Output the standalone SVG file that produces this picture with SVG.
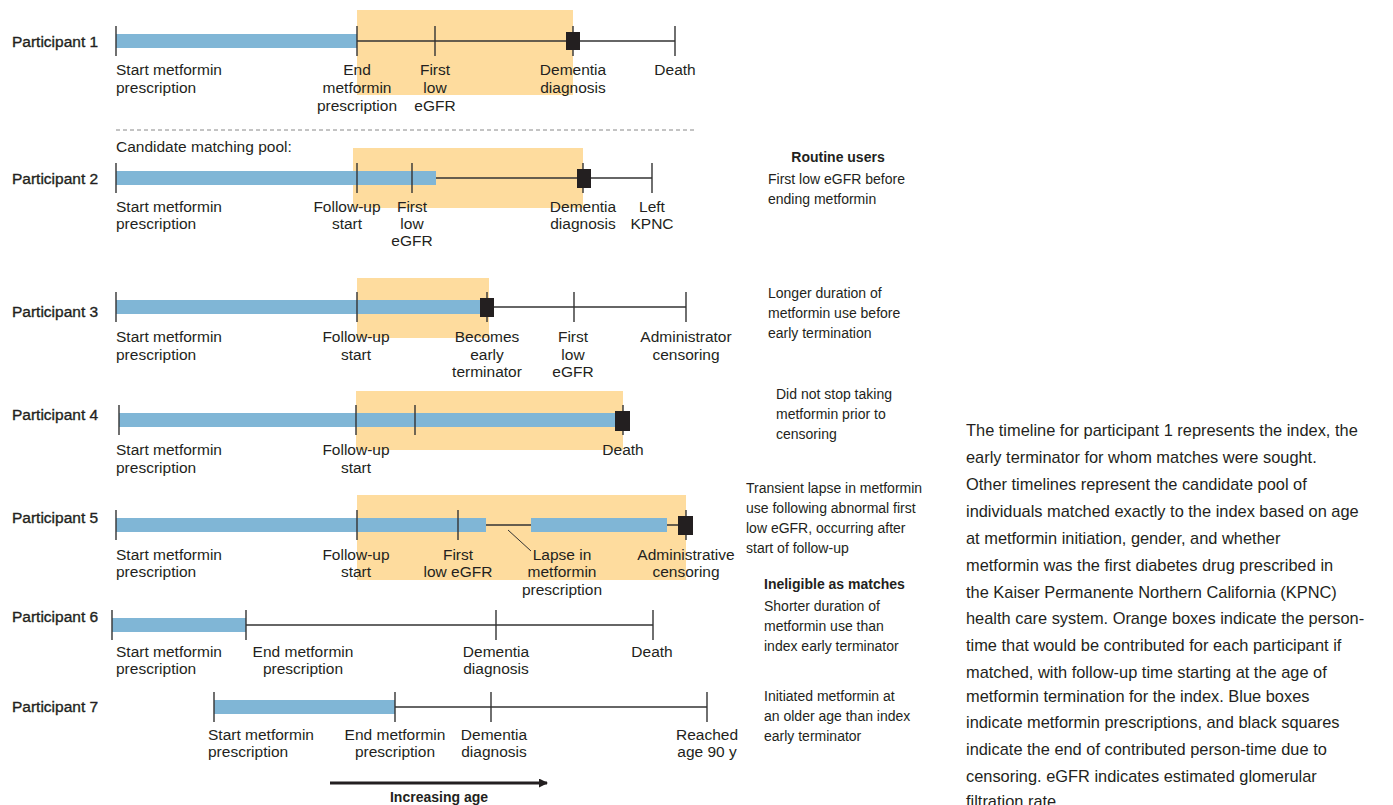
<svg xmlns="http://www.w3.org/2000/svg" width="1393" height="805" viewBox="0 0 1393 805">
<defs>
<style>
text{font-family:"Liberation Sans",Arial,sans-serif;fill:#231f20}
.lb{font-size:15.5px}
.c{text-anchor:middle}
.pl{font-size:15.5px;stroke:#231f20;stroke-width:0.35}
.b{font-weight:bold}
.note{font-size:14px}
.para{font-size:16.4px}
.or{fill:#fedc9e}
.bl{fill:#80b6d6}
.ln{stroke:#333;stroke-width:1.6;fill:none}
.tk{stroke:#333;stroke-width:1.4}
.sq{fill:#231f20}
</style>
<marker id="ah" markerWidth="9" markerHeight="9" refX="8" refY="4.5" orient="auto" markerUnits="userSpaceOnUse"><path d="M0,0 L9,4.5 L0,9 Z" fill="#231f20"/></marker>
</defs>
<rect width="1393" height="805" fill="#fff"/>

<g id="p1">
<rect class="or" x="357" y="10" width="216" height="85"/>
<line class="ln" x1="357" y1="41" x2="675" y2="41"/>
<rect class="bl" x="116" y="34" width="241" height="14"/>
<g class="tk"><line x1="116" y1="26" x2="116" y2="56"/><line x1="357" y1="26" x2="357" y2="56"/><line x1="435" y1="26" x2="435" y2="56"/><line x1="573" y1="26" x2="573" y2="56"/><line x1="675" y1="26" x2="675" y2="56"/></g>
<rect class="sq" x="566" y="32" width="14" height="18"/>
<text class="pl" x="12" y="47">Participant 1</text>
<text class="lb" x="116" y="75">Start metformin</text><text class="lb" x="116" y="93">prescription</text>
<text class="lb c" x="357" y="75">End</text><text class="lb c" x="357" y="93">metformin</text><text class="lb c" x="357" y="111">prescription</text>
<text class="lb c" x="435" y="75">First</text><text class="lb c" x="435" y="93">low</text><text class="lb c" x="435" y="111">eGFR</text>
<text class="lb c" x="573" y="75">Dementia</text><text class="lb c" x="573" y="93">diagnosis</text>
<text class="lb c" x="675" y="75">Death</text>
</g>

<line x1="116" y1="130" x2="697" y2="130" stroke="#888" stroke-width="1" stroke-dasharray="4,3"/>
<text class="lb" x="116" y="152">Candidate matching pool:</text>

<g id="p2">
<rect class="or" x="353" y="148" width="230" height="60"/>
<line class="ln" x1="357" y1="178" x2="652" y2="178"/>
<rect class="bl" x="116" y="171" width="320" height="14"/>
<g class="tk"><line x1="116" y1="163" x2="116" y2="193"/><line x1="357" y1="163" x2="357" y2="193"/><line x1="412" y1="163" x2="412" y2="193"/><line x1="583" y1="163" x2="583" y2="193"/><line x1="652" y1="163" x2="652" y2="193"/></g>
<rect class="sq" x="577" y="169" width="14" height="19"/>
<text class="pl" x="12" y="184">Participant 2</text>
<text class="lb" x="116" y="212">Start metformin</text><text class="lb" x="116" y="229">prescription</text>
<text class="lb c" x="347" y="212">Follow-up</text><text class="lb c" x="347" y="229">start</text>
<text class="lb c" x="412" y="212">First</text><text class="lb c" x="412" y="229">low</text><text class="lb c" x="412" y="246">eGFR</text>
<text class="lb c" x="583" y="212">Dementia</text><text class="lb c" x="583" y="229">diagnosis</text>
<text class="lb c" x="652" y="212">Left</text><text class="lb c" x="652" y="229">KPNC</text>
</g>

<g id="p3">
<rect class="or" x="357" y="278" width="132" height="60"/>
<line class="ln" x1="487" y1="307" x2="686" y2="307"/>
<rect class="bl" x="116" y="300" width="371" height="14"/>
<g class="tk"><line x1="116" y1="292" x2="116" y2="322"/><line x1="357" y1="292" x2="357" y2="322"/><line x1="487" y1="292" x2="487" y2="322"/><line x1="574" y1="292" x2="574" y2="322"/><line x1="686" y1="292" x2="686" y2="322"/></g>
<rect class="sq" x="480" y="298" width="14" height="19"/>
<text class="pl" x="12" y="317">Participant 3</text>
<text class="lb" x="116" y="342">Start metformin</text><text class="lb" x="116" y="360">prescription</text>
<text class="lb c" x="356" y="342">Follow-up</text><text class="lb c" x="356" y="360">start</text>
<text class="lb c" x="487" y="342">Becomes</text><text class="lb c" x="487" y="360">early</text><text class="lb c" x="487" y="377">terminator</text>
<text class="lb c" x="573" y="342">First</text><text class="lb c" x="573" y="360">low</text><text class="lb c" x="573" y="377">eGFR</text>
<text class="lb c" x="686" y="342">Administrator</text><text class="lb c" x="686" y="360">censoring</text>
</g>

<g id="p4">
<rect class="or" x="356" y="391" width="267" height="59"/>
<rect class="bl" x="119" y="413" width="497" height="14"/>
<g class="tk"><line x1="119" y1="405" x2="119" y2="435"/><line x1="356" y1="405" x2="356" y2="435"/><line x1="415" y1="405" x2="415" y2="435"/><line x1="623" y1="405" x2="623" y2="435"/></g>
<rect class="sq" x="615" y="411" width="15" height="20"/>
<text class="pl" x="12" y="420">Participant 4</text>
<text class="lb" x="116" y="455">Start metformin</text><text class="lb" x="116" y="473">prescription</text>
<text class="lb c" x="356" y="455">Follow-up</text><text class="lb c" x="356" y="473">start</text>
<text class="lb c" x="623" y="455">Death</text>
</g>

<g id="p5">
<rect class="or" x="357" y="495" width="329" height="85"/>
<line class="ln" x1="486" y1="525" x2="686" y2="525"/>
<rect class="bl" x="116" y="518" width="370" height="14"/>
<rect class="bl" x="531" y="518" width="136" height="14"/>
<g class="tk"><line x1="116" y1="510" x2="116" y2="540"/><line x1="357" y1="510" x2="357" y2="540"/><line x1="458" y1="510" x2="458" y2="540"/><line x1="686" y1="510" x2="686" y2="540"/></g>
<line x1="508" y1="530" x2="531" y2="551" stroke="#333" stroke-width="1"/>
<rect class="sq" x="678" y="516" width="15" height="19"/>
<text class="pl" x="12" y="523">Participant 5</text>
<text class="lb" x="116" y="560">Start metformin</text><text class="lb" x="116" y="577">prescription</text>
<text class="lb c" x="356" y="560">Follow-up</text><text class="lb c" x="356" y="577">start</text>
<text class="lb c" x="458" y="560">First</text><text class="lb c" x="458" y="577">low eGFR</text>
<text class="lb c" x="562" y="560">Lapse in</text><text class="lb c" x="562" y="577">metformin</text><text class="lb c" x="562" y="595">prescription</text>
<text class="lb c" x="686" y="560">Administrative</text><text class="lb c" x="686" y="577">censoring</text>
</g>

<g id="p6">
<line class="ln" x1="246" y1="625" x2="653" y2="625"/>
<rect class="bl" x="112" y="618" width="134" height="14"/>
<g class="tk"><line x1="112" y1="610" x2="112" y2="640"/><line x1="246" y1="610" x2="246" y2="640"/><line x1="496" y1="610" x2="496" y2="640"/><line x1="653" y1="610" x2="653" y2="640"/></g>
<text class="pl" x="12" y="622">Participant 6</text>
<text class="lb" x="116" y="657">Start metformin</text><text class="lb" x="116" y="674">prescription</text>
<text class="lb c" x="303" y="657">End metformin</text><text class="lb c" x="303" y="674">prescription</text>
<text class="lb c" x="496" y="657">Dementia</text><text class="lb c" x="496" y="674">diagnosis</text>
<text class="lb c" x="652" y="657">Death</text>
</g>

<g id="p7">
<line class="ln" x1="395" y1="707" x2="707" y2="707"/>
<rect class="bl" x="214" y="700" width="181" height="14"/>
<g class="tk"><line x1="214" y1="692" x2="214" y2="722"/><line x1="395" y1="692" x2="395" y2="722"/><line x1="491" y1="692" x2="491" y2="722"/><line x1="707" y1="692" x2="707" y2="722"/></g>
<text class="pl" x="12" y="712">Participant 7</text>
<text class="lb" x="208" y="740">Start metformin</text><text class="lb" x="208" y="757">prescription</text>
<text class="lb c" x="395" y="740">End metformin</text><text class="lb c" x="395" y="757">prescription</text>
<text class="lb c" x="494" y="740">Dementia</text><text class="lb c" x="494" y="757">diagnosis</text>
<text class="lb c" x="707" y="740">Reached</text><text class="lb c" x="707" y="757">age 90 y</text>
</g>

<g id="connectors">
<line x1="330" y1="783" x2="547" y2="783" stroke="#231f20" stroke-width="3.2" marker-end="url(#ah)"/>
</g>
<text class="b c" x="439" y="802" style="font-size:14px">Increasing age</text>

<g id="notes">
<text class="note b c" x="838" y="162">Routine users</text>
<text class="note" x="768" y="184">First low eGFR before</text><text class="note" x="768" y="204">ending metformin</text>
<text class="note" x="768" y="298">Longer duration of</text><text class="note" x="768" y="318">metformin use before</text><text class="note" x="768" y="338">early termination</text>
<text class="note" x="776" y="399">Did not stop taking</text><text class="note" x="776" y="419">metformin prior to</text><text class="note" x="776" y="439">censoring</text>
<text class="note" x="746" y="493">Transient lapse in metformin</text><text class="note" x="746" y="513">use following abnormal first</text><text class="note" x="746" y="533">low eGFR, occurring after</text><text class="note" x="746" y="553">start of follow-up</text>
<text class="note b" x="764" y="589">Ineligible as matches</text>
<text class="note" x="764" y="611">Shorter duration of</text><text class="note" x="764" y="631">metformin use than</text><text class="note" x="764" y="651">index early terminator</text>
<text class="note" x="764" y="701">Initiated metformin at</text><text class="note" x="764" y="721">an older age than index</text><text class="note" x="764" y="741">early terminator</text>
</g>

<g id="caption">
<text class="para" x="966" y="436">The timeline for participant 1 represents the index, the</text>
<text class="para" x="966" y="463">early terminator for whom matches were sought.</text>
<text class="para" x="966" y="490">Other timelines represent the candidate pool of</text>
<text class="para" x="966" y="517">individuals matched exactly to the index based on age</text>
<text class="para" x="966" y="544">at metformin initiation, gender, and whether</text>
<text class="para" x="966" y="571">metformin was the first diabetes drug prescribed in</text>
<text class="para" x="966" y="598">the Kaiser Permanente Northern California (KPNC)</text>
<text class="para" x="966" y="624">health care system. Orange boxes indicate the person-</text>
<text class="para" x="966" y="651">time that would be contributed for each participant if</text>
<text class="para" x="966" y="678">matched, with follow-up time starting at the age of</text>
<text class="para" x="966" y="702">metformin termination for the index. Blue boxes</text>
<text class="para" x="966" y="728">indicate metformin prescriptions, and black squares</text>
<text class="para" x="966" y="755">indicate the end of contributed person-time due to</text>
<text class="para" x="966" y="782">censoring. eGFR indicates estimated glomerular</text>
<text class="para" x="966" y="807">filtration rate.</text>
</g>
</svg>
